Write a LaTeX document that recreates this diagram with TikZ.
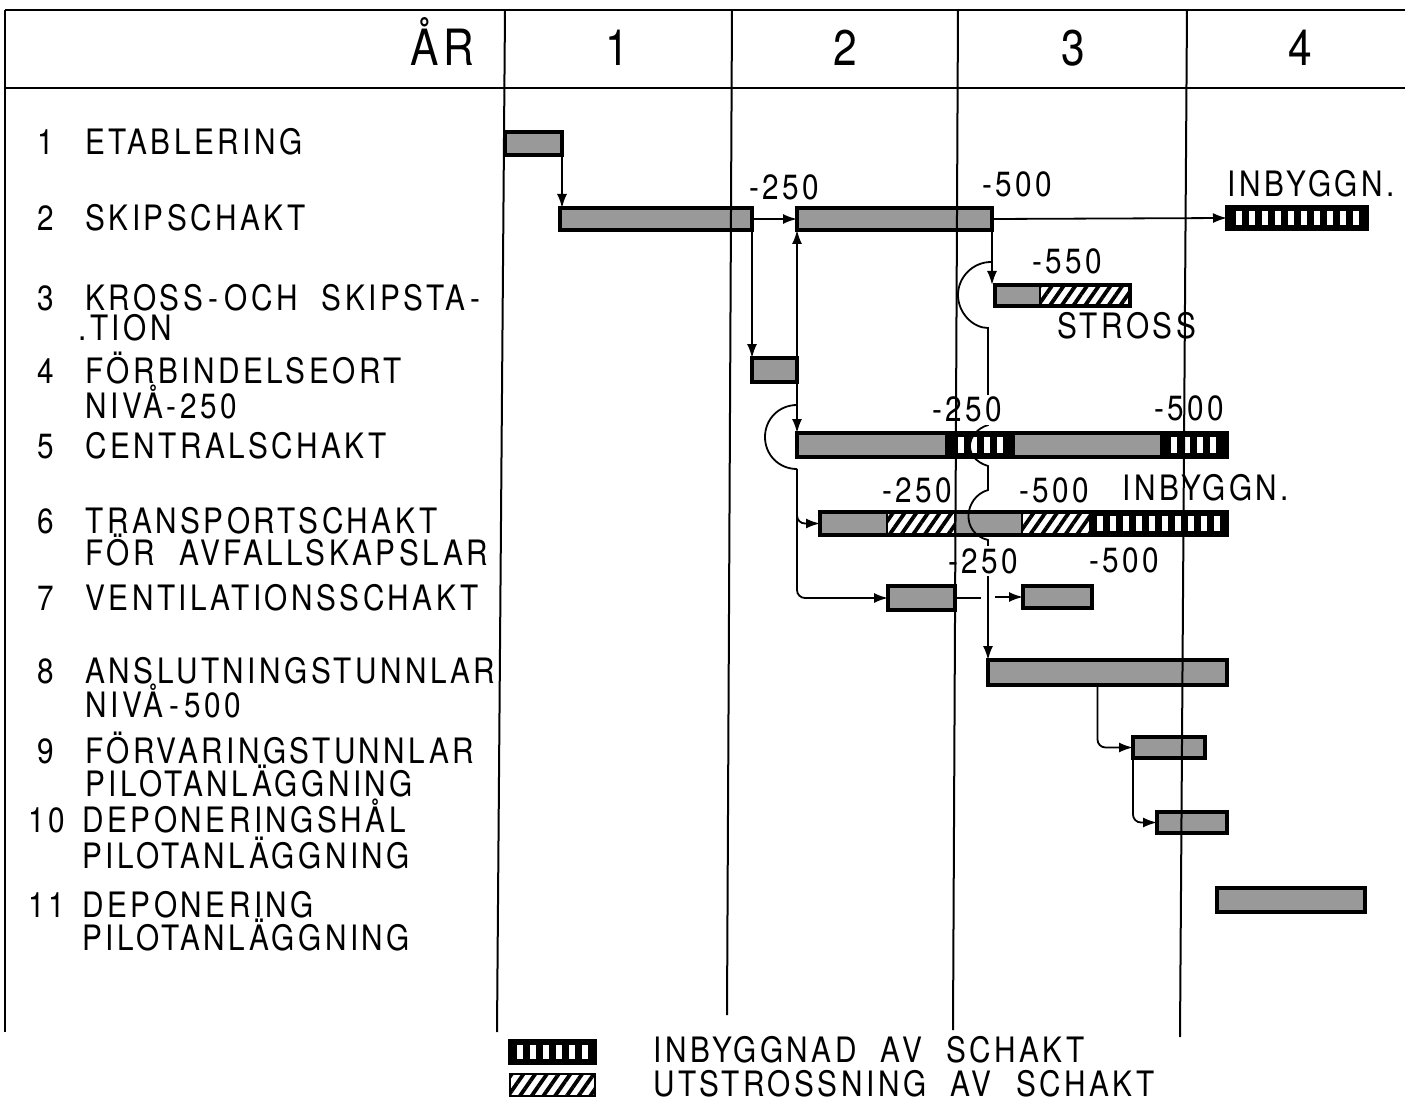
\documentclass[tikz,border=0pt]{standalone}
\usepackage{fontspec}
\newfontfamily\lbl[FakeStretch=0.85,LetterSpace=10]{TeX Gyre Heros}
\usetikzlibrary{arrows.meta,patterns.meta}
\newcommand\wsp{\hspace{0.7em}}
\tikzset{
  gridln/.style={line width=1pt},
  hdrln/.style={line width=1.2pt},
  barframe/.style={draw=black,line width=1.6pt,inner sep=0pt,outer sep=0pt,anchor=north west},
  gbar/.style={barframe,fill=black!40},
  conn/.style={line width=0.9pt,-{Latex[length=7pt,width=5pt]}},
  pline/.style={line width=0.9pt},
  txt/.style={font={\lbl\fontsize{17.5pt}{20pt}\selectfont},inner sep=0pt,anchor=base west},
  lab/.style={txt,fill=white,inner sep=1pt},
  headtxt/.style={font={\lbl\fontsize{25pt}{28pt}\selectfont},inner sep=0pt,anchor=base},
  hatchfill/.style={pattern={Lines[angle=55,distance=4.8pt,line width=1.9pt]},pattern color=black},
}
\newcommand\gseg[4]{\fill[black!40] (#1,#2) rectangle (#3,#4);}
\newcommand\hseg[4]{\fill[white] (#1,#2) rectangle (#3,#4);\fill[hatchfill] (#1,#2) rectangle (#3,#4);\draw[line width=1.2pt] (#1,#2)--(#1,#4) (#3,#2)--(#3,#4);}
\newcommand\sseg[4]{\fill[black] (#1,#2) rectangle (#3,#4);%
  \pgfmathtruncatemacro\nslots{((#3)-(#1)-6)/13}%
  \pgfmathsetmacro\smarg{((#3)-(#1)-13*\nslots+7)/2}%
  \foreach \i in {1,...,\nslots}{\fill[white] ({#1+\smarg+(\i-1)*13},{#2+4}) rectangle ++(6,{#4-#2-8});}}
\newcommand\barnode[6][barframe]{\node[#1,minimum width={(#5-#3)*0.5pt},minimum height={(#6-#4)*0.5pt}] (#2) at (#3,#4) {};}
\begin{document}
\begin{tikzpicture}[x=0.5pt,y=-0.5pt]
\useasboundingbox (0,0) rectangle (1405,1102);
\fill[white] (0,0) rectangle (1405,1102);

% header frame
\draw[hdrln] (5,10) -- (1405,10);
\draw[hdrln] (5,88) -- (1405,88);
\draw[hdrln] (5,10) -- (5,1032);
\node[headtxt,anchor=base east] (ar) at (475,66) {ÅR};
\node[headtxt] (y1) at (617,66) {1};
\node[headtxt] (y2) at (845,66) {2};
\node[headtxt] (y3) at (1073,66) {3};
\node[headtxt] (y4) at (1300,66) {4};

% bars
\barnode[gbar]{b1}{505}{132}{562}{155}
\barnode[gbar]{b2a}{560}{208}{752}{230}
\barnode[gbar]{b2b}{797}{208}{992}{230}
\sseg{1227}{207}{1367}{229}
\barnode{b2c}{1227}{207}{1367}{229}
\gseg{995}{285}{1040}{306}
\hseg{1040}{285}{1130}{306}
\barnode{b3}{995}{285}{1130}{306}
\barnode[gbar]{b4}{752}{358}{797}{382}
\gseg{797}{433}{945}{457}
\sseg{945}{433}{1015}{457}
\gseg{1015}{433}{1160}{457}
\sseg{1160}{433}{1227}{457}
\barnode{b5}{797}{433}{1227}{457}
\gseg{820}{512}{887}{535}
\hseg{887}{512}{955}{535}
\gseg{955}{512}{1022}{535}
\hseg{1022}{512}{1090}{535}
\sseg{1090}{512}{1227}{535}
\barnode{b6}{820}{512}{1227}{535}
\barnode[gbar]{b7a}{888}{586}{955}{610}
\barnode[gbar]{b7b}{1023}{586}{1092}{608}
\barnode[gbar]{b8}{988}{660}{1227}{685}
\barnode[gbar]{b9}{1133}{737}{1205}{758}
\barnode[gbar]{b10}{1157}{812}{1227}{833}
\barnode[gbar]{b11}{1217}{888}{1365}{912}

% connectors
\draw[conn] (b1.south east) -- (b1.south east |- b2a.north);
\draw[conn] (b2a.east) -- (b2b.west);
\draw[conn] (b2b.east) -- (b2c.west);
\draw[conn] (b2a.south east) -- (b2a.south east |- b4.north);
\draw[conn] (b4.east) -- (b4.east |- b2b.south);
\draw[conn] (b4.east) -- (b4.east |- b5.north);
\coordinate (k1) at (797,405);
\coordinate (k2) at (797,469);
\draw[pline] (k1) .. controls (779,405) and (765,419) .. (765,437) .. controls (765,455) and (779,469) .. (k2);
\draw[conn,rounded corners=4pt] (k2) -- (k2 |- b6.west) -- (b6.west);
\draw[conn,rounded corners=4pt] (k2) -- (k2 |- b7a.west) -- (b7a.west);
\draw[conn] (b2b.south east) -- (b2b.south east |- b3.north);
\coordinate (r1) at (991,262);
\draw[conn] (r1) .. controls (973,262) and (958,277) .. (958,295) .. controls (958,313) and (973,328) .. (988,328)
  -- (988,425) .. controls (966,432) and (962,458) .. (988,466)
  -- (988,490) .. controls (964,497) and (960,533) .. (988,540)
  -- (b8.north west);
\coordinate (g1) at (981,598);
\coordinate (g2) at (995,597);
\draw[pline] (b7a.east) -- (g1);
\draw[conn] (g2) -- (b7b.west);
\coordinate (d8) at ([xshift=-5pt]b8.south);
\draw[conn,rounded corners=4pt] (d8) -- (d8 |- b9.west) -- (b9.west);
\draw[conn,rounded corners=4pt] (b9.south west) -- (b9.south west |- b10.west) -- (b10.west);

% bar labels
\node[lab] (l2a) at (747,200) {-250};
\node[lab] (l2b) at (980,197) {-500};
\node[lab,anchor=base east] (l2c) at (1397,197) {INBYGGN.};
\node[lab] (l3a) at (1030,273) {-550};
\node[lab] (l3b) at (1055,338) {STROSS};
\node[lab] (l5a) at (930,422) {-250};
\node[lab] (l5b) at (1152,420) {-500};
\node[lab] (l6a) at (880,502) {-250};
\node[lab] (l6b) at (1017,502) {-500};
\node[lab] (l6c) at (1120,500) {INBYGGN.};
\node[lab] (l7a) at (946,573) {-250};
\node[lab] (l7b) at (1087,572) {-500};

% row texts
\node[txt] (n1) at (37,155) {1};
\node[txt] (t1) at (85,155) {ETABLERING};
\node[txt] (n2) at (37,231) {2};
\node[txt] (t2) at (85,231) {SKIPSCHAKT};
\node[txt] (n3) at (37,310) {3};
\node[txt] (t3) at (85,310) {KROSS\,-\,OCH\wsp SKIPSTA\,-};
\node[txt] (t3b) at (78,340) {.TION};
\node[txt] (n4) at (37,383) {4};
\node[txt] (t4) at (85,383) {FÖRBINDELSEORT};
\node[txt] (t4b) at (85,418) {NIVÅ-250};
\node[txt] (n5) at (37,458) {5};
\node[txt] (t5) at (85,458) {CENTRALSCHAKT};
\node[txt] (n6) at (37,533) {6};
\node[txt] (t6) at (85,533) {TRANSPORTSCHAKT};
\node[txt] (t6b) at (85,565) {FÖR\wsp AVFALLSKAPSLAR};
\node[txt] (n7) at (37,610) {7};
\node[txt] (t7) at (85,610) {VENTILATIONSSCHAKT};
\node[txt] (n8) at (37,683) {8};
\node[txt] (t8) at (85,683) {ANSLUTNINGSTUNNLAR};
\node[txt] (t8b) at (85,717) {NIVÅ\,-\,500};
\node[txt] (n9) at (37,763) {9};
\node[txt] (t9) at (85,763) {FÖRVARINGSTUNNLAR};
\node[txt] (t9b) at (85,796) {PILOTANLÄGGNING};
\node[txt] (n10) at (28,832) {10};
\node[txt] (t10) at (82,832) {DEPONERINGSHÅL};
\node[txt] (t10b) at (82,868) {PILOTANLÄGGNING};
\node[txt] (n11) at (28,917) {11};
\node[txt] (t11) at (82,917) {DEPONERING};
\node[txt] (t11b) at (82,950) {PILOTANLÄGGNING};

% legend
\sseg{510}{1041}{595}{1063}
\barnode{lg1}{510}{1041}{595}{1063}
\hseg{510}{1074}{595}{1096}
\barnode[barframe,line width=0.8pt]{lg2}{510}{1074}{595}{1096}
\node[txt] (lt1) at (653,1062) {INBYGGNAD\wsp AV\wsp SCHAKT};
\node[txt] (lt2) at (653,1096) {UTSTROSSNING\wsp AV\wsp SCHAKT};

% year grid lines (on top)
\draw[gridln] (505,10) -- (497,1032);
\draw[gridln] (732,10) -- (727,1015);
\draw[gridln] (958,10) -- (953,1030);
\draw[gridln] (1187,10) -- (1180,1037);
\end{tikzpicture}
\end{document}
